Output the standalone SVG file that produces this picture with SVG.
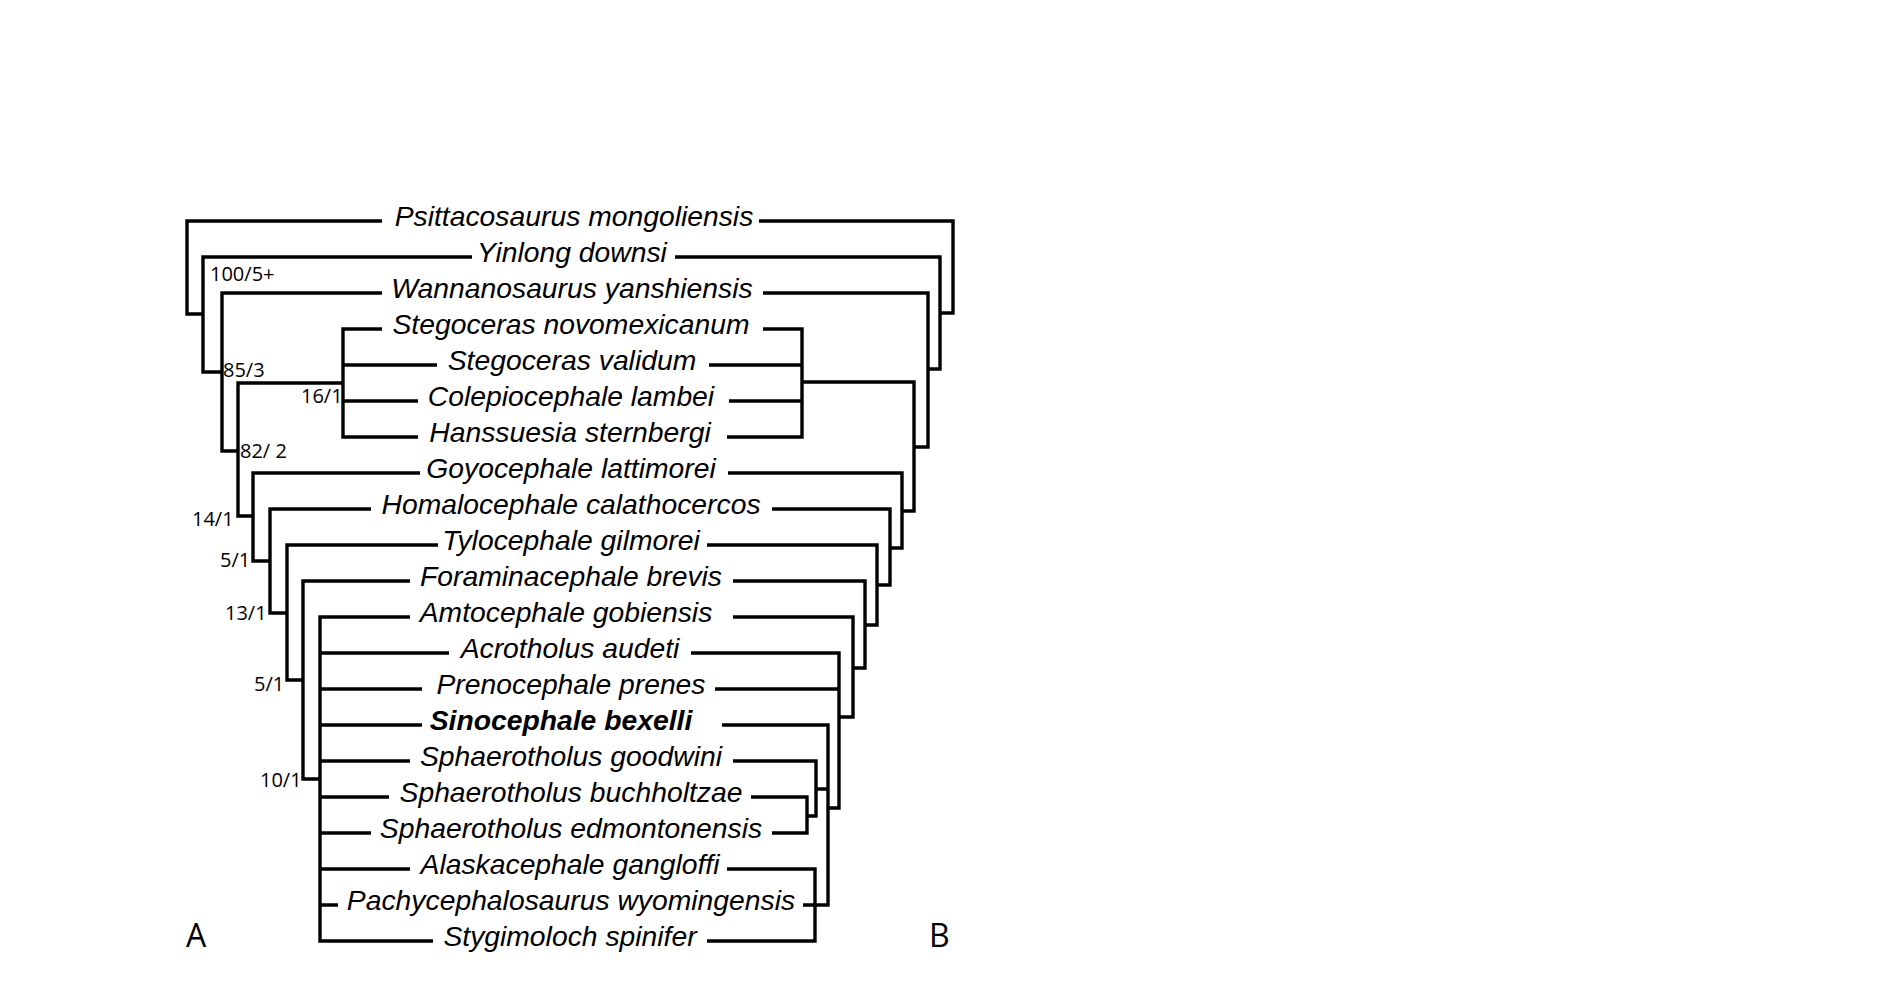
<svg xmlns="http://www.w3.org/2000/svg" width="1881" height="983" viewBox="0 0 1881 983">
<style>
.bg{fill:#fff}
.ln{fill:none;stroke:#000;stroke-width:3.4;stroke-linejoin:miter;stroke-linecap:butt}
.tx{font-family:"Liberation Sans",Arial,sans-serif;font-size:28.3px;font-style:italic;fill:#000;text-anchor:middle}
.b{font-weight:bold}
.sup{font-family:"Open Sans","DejaVu Sans",sans-serif;font-size:20px;fill:#000}
.pl{font-family:"Open Sans","DejaVu Sans",sans-serif;font-size:32px;fill:#000}
</style>
<rect class="bg" x="0" y="0" width="1881" height="983"/>
<g id="connectors">
  <!-- tree A (left) -->
  <path class="ln" d="M382,221 H187 V314 H203"/>
  <path class="ln" d="M472,257 H203 V372 H222"/>
  <path class="ln" d="M382,293 H222 V451 H238"/>
  <path class="ln" d="M343,383 H238 V516 H253"/>
  <path class="ln" d="M382,329 H343 V437 H418 M437,365 H343 M418,401 H343"/>
  <path class="ln" d="M420,473 H253 V561 H270"/>
  <path class="ln" d="M371,509 H270 V613 H287"/>
  <path class="ln" d="M438,545 H287 V680 H303"/>
  <path class="ln" d="M410,581 H303 V779 H320"/>
  <path class="ln" d="M410,617 H320 V941 H433 M449,653 H320 M422,689 H320 M422,725 H320 M410,761 H320 M389,797 H320 M371,833 H320 M410,869 H320 M338,905 H320"/>
  <!-- tree B (right) -->
  <path class="ln" d="M759,221 H953 V313 H940"/>
  <path class="ln" d="M675,257 H940 V369 H928"/>
  <path class="ln" d="M763,293 H928 V447 H914"/>
  <path class="ln" d="M763,329 H802 V437 H727 M709,365 H802 M729,401 H802 M802,382 H914 V511 H902"/>
  <path class="ln" d="M728,473 H902 V548 H890"/>
  <path class="ln" d="M772,509 H890 V585 H877"/>
  <path class="ln" d="M707,545 H877 V625 H865"/>
  <path class="ln" d="M733,581 H865 V668 H853"/>
  <path class="ln" d="M733,617 H853 V717 H839"/>
  <path class="ln" d="M691,653 H839 V808 H828 M715,689 H839"/>
  <path class="ln" d="M722,725 H828 V905 H803 M816,789 H828"/>
  <path class="ln" d="M733,761 H816 V816 H807"/>
  <path class="ln" d="M751,797 H807 V833 H772"/>
  <path class="ln" d="M727,869 H815 V941 H707"/>
</g>
<g id="support-labels">
  <text class="sup" x="210" y="281">100/5+</text>
  <text class="sup" x="223" y="377">85/3</text>
  <text class="sup" x="301" y="403">16/1</text>
  <text class="sup" x="240" y="458">82/ 2</text>
  <text class="sup" x="192" y="526">14/1</text>
  <text class="sup" x="220" y="567">5/1</text>
  <text class="sup" x="225" y="620">13/1</text>
  <text class="sup" x="254" y="691">5/1</text>
  <text class="sup" x="260" y="787">10/1</text>
</g>
<g id="taxon-psittacosaurus"><text class="tx" x="574" y="226">Psittacosaurus mongoliensis</text></g>
<g id="taxon-yinlong"><text class="tx" x="572" y="262">Yinlong downsi</text></g>
<g id="taxon-wannanosaurus"><text class="tx" x="572" y="298">Wannanosaurus yanshiensis</text></g>
<g id="taxon-stegoceras-novomexicanum"><text class="tx" x="571" y="334">Stegoceras novomexicanum</text></g>
<g id="taxon-stegoceras-validum"><text class="tx" x="572" y="370">Stegoceras validum</text></g>
<g id="taxon-colepiocephale"><text class="tx" x="571" y="406">Colepiocephale lambei</text></g>
<g id="taxon-hanssuesia"><text class="tx" x="570" y="442">Hanssuesia sternbergi</text></g>
<g id="taxon-goyocephale"><text class="tx" x="571" y="478">Goyocephale lattimorei</text></g>
<g id="taxon-homalocephale"><text class="tx" x="571" y="514">Homalocephale calathocercos</text></g>
<g id="taxon-tylocephale"><text class="tx" x="571" y="550">Tylocephale gilmorei</text></g>
<g id="taxon-foraminacephale"><text class="tx" x="571" y="586">Foraminacephale brevis</text></g>
<g id="taxon-amtocephale"><text class="tx" x="566" y="622">Amtocephale gobiensis</text></g>
<g id="taxon-acrotholus"><text class="tx" x="570" y="658">Acrotholus audeti</text></g>
<g id="taxon-prenocephale"><text class="tx" x="571" y="694">Prenocephale prenes</text></g>
<g id="taxon-sinocephale"><text class="tx b" x="561" y="730">Sinocephale bexelli</text></g>
<g id="taxon-sphaerotholus-goodwini"><text class="tx" x="571" y="766">Sphaerotholus goodwini</text></g>
<g id="taxon-sphaerotholus-buchholtzae"><text class="tx" x="571" y="802">Sphaerotholus buchholtzae</text></g>
<g id="taxon-sphaerotholus-edmontonensis"><text class="tx" x="571" y="838">Sphaerotholus edmontonensis</text></g>
<g id="taxon-alaskacephale"><text class="tx" x="570" y="874">Alaskacephale gangloffi</text></g>
<g id="taxon-pachycephalosaurus"><text class="tx" x="571" y="910">Pachycephalosaurus wyomingensis</text></g>
<g id="taxon-stygimoloch"><text class="tx" x="570" y="946">Stygimoloch spinifer</text></g>
<g id="panel-labels">
  <text class="pl" x="186" y="947">A</text>
  <text class="pl" x="929" y="947">B</text>
</g>
</svg>
